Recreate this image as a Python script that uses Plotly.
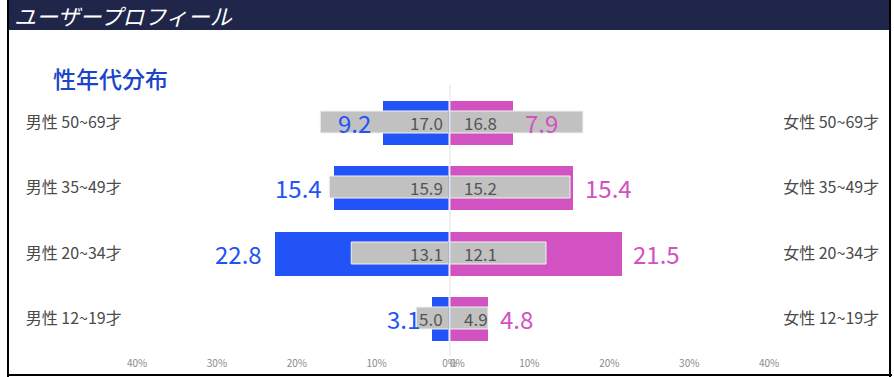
import plotly.graph_objects as go

# ---- data ----
age_groups = ["12~19才", "20~34才", "35~49才", "50~69才"]   # bottom -> top
male_values = [3.1, 22.8, 15.4, 9.2]
male_reference = [5.0, 13.1, 15.9, 17.0]
female_values = [4.8, 21.5, 15.4, 7.9]
female_reference = [4.9, 12.1, 15.2, 16.8]
x_ticks = [0, 10, 20, 30, 40]
x_tick_labels = ["0%", "10%", "20%", "30%", "40%"]
male_prefix = "男性 "
female_prefix = "女性 "
header_text = "ユーザープロフィール"
title_text = "性年代分布"

W, H = 894, 377
FONT = "Noto Sans CJK JP"
BLUE = "#2253f7"
PINK = "#d152c0"
GRAY = "#c1c1c1"
TXT = "#555555"

def px_x(p):
    return p / W

def px_y(p):
    return 1 - p / H

fig = go.Figure()

fig.add_trace(go.Bar(x=male_values, y=age_groups, orientation="h", width=0.67,
                     marker=dict(color=BLUE, line=dict(width=0)),
                     xaxis="x", yaxis="y", hoverinfo="skip", showlegend=False))
fig.add_trace(go.Bar(x=male_reference, y=age_groups, orientation="h", width=0.34,
                     marker=dict(color=GRAY, line=dict(color="#f2f2f2", width=1)),
                     xaxis="x", yaxis="y", hoverinfo="skip", showlegend=False))
fig.add_trace(go.Bar(x=female_values, y=age_groups, orientation="h", width=0.67,
                     marker=dict(color=PINK, line=dict(width=0)),
                     xaxis="x2", yaxis="y2", hoverinfo="skip", showlegend=False))
fig.add_trace(go.Bar(x=female_reference, y=age_groups, orientation="h", width=0.34,
                     marker=dict(color=GRAY, line=dict(color="#f2f2f2", width=1)),
                     xaxis="x2", yaxis="y2", hoverinfo="skip", showlegend=False))

annotations = []
for cat, mv, mr, fv, fr in zip(age_groups, male_values, male_reference,
                               female_values, female_reference):
    annotations.append(dict(x=mv, y=cat, xref="x", yref="y", text=f"{mv:.1f}",
                            showarrow=False, xanchor="right", xshift=-10,
                            font=dict(family=FONT, size=24, color=BLUE)))
    annotations.append(dict(x=fv, y=cat, xref="x2", yref="y2", text=f"{fv:.1f}",
                            showarrow=False, xanchor="left", xshift=10,
                            font=dict(family=FONT, size=24, color=PINK)))
    annotations.append(dict(x=0, y=cat, xref="x2", yref="y2", text=f"{mr:.1f}",
                            showarrow=False, xanchor="right", xshift=-5,
                            font=dict(family=FONT, size=17, color=TXT)))
    annotations.append(dict(x=0, y=cat, xref="x2", yref="y2", text=f"{fr:.1f}",
                            showarrow=False, xanchor="left", xshift=12,
                            font=dict(family=FONT, size=17, color=TXT)))

# left axis "0%" label (its zero lies just past the clipped edge, overlapping the right one)
annotations.append(dict(x=x_ticks[0], y=px_y(362), xref="x2", yref="paper",
                        text=x_tick_labels[0], showarrow=False, xanchor="center",
                        yanchor="middle", xshift=8,
                        font=dict(family=FONT, size=10, color="#8a8a8a")))

annotations.append(dict(x=px_x(5), y=px_y(15), xref="paper", yref="paper",
                        text=header_text, showarrow=False, xanchor="left", yanchor="middle",
                        font=dict(family=FONT, size=22, color="white", style="italic")))
annotations.append(dict(x=px_x(44), y=px_y(78), xref="paper", yref="paper",
                        text=title_text, showarrow=False, xanchor="left", yanchor="middle",
                        font=dict(family=FONT, size=23, color="#1a45c9", weight=500)))

shapes = [
    dict(type="rect", xref="paper", yref="paper", x0=px_x(1), x1=px_x(893),
         y0=px_y(30), y1=1, fillcolor="#20264a", line=dict(width=0), layer="below"),
    dict(type="line", xref="x2", yref="paper", x0=0, x1=0, y0=px_y(356), y1=px_y(85),
         line=dict(color="#e2e2e2", width=2), layer="above"),
    dict(type="line", xref="paper", yref="paper", x0=px_x(1), x1=px_x(1), y0=0, y1=1,
         line=dict(color="black", width=2)),
    dict(type="line", xref="paper", yref="paper", x0=px_x(892), x1=px_x(892), y0=0, y1=1,
         line=dict(color="black", width=2)),
    dict(type="line", xref="paper", yref="paper", x0=0, x1=1, y0=px_y(375), y1=px_y(375),
         line=dict(color="black", width=2)),
]

ydom = [px_y(351.5), px_y(89.5)]
tickfont = dict(family=FONT, size=10, color="#8a8a8a")
catfont = dict(family=FONT, size=16, color="#4a4a4a")

fig.update_layout(
    width=W, height=H,
    margin=dict(l=0, r=0, t=0, b=0),
    paper_bgcolor="white", plot_bgcolor="rgba(0,0,0,0)",
    barmode="overlay", bargap=0,
    xaxis=dict(domain=[px_x(125), px_x(446)], range=[40.8, 1.0],
               tickvals=x_ticks, ticktext=x_tick_labels, tickfont=tickfont,
               showgrid=False, zeroline=False, showline=False, ticks="",
               anchor="y", fixedrange=True, ticklabelstandoff=4),
    xaxis2=dict(domain=[px_x(447), px_x(778)], range=[0, 41.0],
                tickvals=x_ticks, ticktext=x_tick_labels, tickfont=tickfont,
                showgrid=False, zeroline=False, showline=False, ticks="",
                anchor="y2", fixedrange=True, ticklabelstandoff=4),
    yaxis=dict(domain=ydom, type="category", categoryorder="array",
               categoryarray=age_groups, range=[-0.5, 3.5],
               tickvals=age_groups, ticktext=[male_prefix + a for a in age_groups],
               tickfont=catfont, showgrid=False, zeroline=False, ticks="",
               anchor="x", fixedrange=True, ticklabelstandoff=8),
    yaxis2=dict(domain=ydom, type="category", categoryorder="array",
                categoryarray=age_groups, range=[-0.5, 3.5], matches="y",
                tickvals=age_groups, ticktext=[female_prefix + a for a in age_groups],
                tickfont=catfont, showgrid=False, zeroline=False, ticks="",
                anchor="x2", side="right", fixedrange=True, ticklabelstandoff=5),
    annotations=annotations,
    shapes=shapes,
    showlegend=False,
)

fig.write_html("out.html", config={"displayModeBar": False},
               post_script="document.body.style.margin='0';document.body.style.overflow='hidden';")
